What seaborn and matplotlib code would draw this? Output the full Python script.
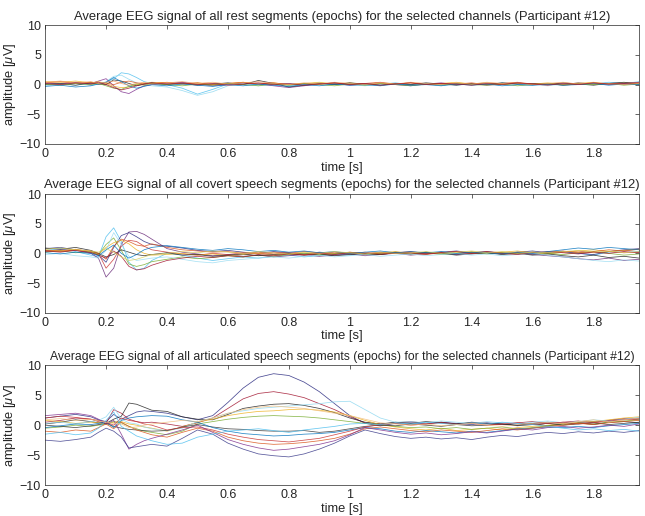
import matplotlib
matplotlib.use("Agg")
import matplotlib.pyplot as plt
import numpy as np
import pandas as pd
import seaborn as sns

# time axis [s] (denser around the 0.2-0.3 s transient)
time_s = [0.0, 0.05, 0.1, 0.15, 0.175, 0.2, 0.225, 0.25, 0.275, 0.3, 0.325, 0.35,
          0.4, 0.45, 0.5, 0.55, 0.6, 0.65, 0.7, 0.75, 0.8, 0.85, 0.9, 0.95, 1.0, 1.05, 1.1, 1.15,
          1.2, 1.25, 1.3, 1.35, 1.4, 1.45, 1.5, 1.55, 1.6, 1.65, 1.7, 1.75, 1.8, 1.85, 1.9, 1.95]

# rest segments, one list per channel
rest_ch1 = [0.2, 0.0, 0.3, -0.1, 0.2, 0.4, 1.0, 2.0, 1.8, 1.2, 0.5, 0.2,
            0.0, -0.6, -1.6, -0.8, 0.1, 0.3, 0.0, 0.2, -0.1, 0.1, 0.3, 0.0, 0.2, -0.1, 0.1, 0.3,
            0.0, 0.2, -0.1, 0.1, 0.2, 0.0, 0.3, 0.1, -0.1, 0.2, 0.0, 0.3, 0.1, 0.4, 0.2, 0.5]
rest_ch2 = [-0.2, 0.1, -0.1, 0.2, 0.0, 0.5, 1.4, 1.6, 0.9, 0.3, 0.0, -0.2,
            -0.4, -1.0, -1.8, -1.2, -0.2, 0.1, -0.2, 0.0, 0.2, -0.1, 0.1, 0.3, 0.0, -0.2, 0.1, 0.2,
            -0.1, 0.0, 0.2, -0.1, 0.1, 0.3, 0.0, 0.2, 0.0, -0.2, 0.1, 0.2, 0.0, 0.3, 0.1, 0.2]
rest_ch3 = [0.3, 0.1, 0.4, 0.2, 0.6, 1.0, -0.2, -1.2, -1.5, -0.8, -0.2, 0.0,
            0.2, 0.4, 0.1, -0.2, 0.0, 0.3, 0.1, -0.2, -0.5, -0.2, 0.1, 0.2, -0.1, 0.1, 0.3, 0.0,
            -0.2, 0.1, 0.3, 0.0, 0.2, -0.1, 0.1, 0.3, 0.0, 0.2, -0.1, 0.1, 0.3, 0.0, 0.2, 0.1]
rest_ch4 = [0.5, 0.4, 0.6, 0.3, 0.5, 0.2, -0.3, -0.5, -0.4, 0.0, 0.2, 0.4,
            0.3, 0.1, 0.3, 0.0, 0.2, 0.4, 0.1, 0.3, 0.0, 0.2, 0.4, 0.1, 0.3, 0.0, 0.2, 0.1,
            0.3, 0.0, 0.2, 0.4, 0.1, 0.3, 0.0, 0.2, 0.1, 0.3, 0.0, 0.2, 0.4, 0.1, 0.3, 0.2]
rest_ch5 = [0.0, 0.2, -0.1, 0.3, 0.1, 0.0, 0.8, 0.6, 0.2, -0.2, 0.1, 0.3,
            0.0, 0.2, -0.1, 0.1, 0.3, 0.0, 0.7, 0.2, -0.4, -0.1, 0.2, 0.0, 0.3, 0.1, -0.1, 0.2,
            0.0, 0.3, 0.1, -0.1, 0.2, 0.0, 0.3, 0.1, 0.2, 0.0, 0.3, 0.1, -0.1, 0.2, 0.4, 0.1]
rest_ch6 = [0.3, 0.5, 0.2, 0.4, 0.1, 0.3, 0.0, 0.4, 0.6, 0.3, 0.1, 0.2,
            0.4, 0.1, 0.3, 0.0, 0.2, 0.4, 0.1, 0.3, 0.0, 0.2, 0.1, 0.3, 0.0, 0.2, 0.4, 0.1,
            0.3, 0.0, 0.2, 0.1, 0.3, 0.0, 0.2, 0.4, 0.1, 0.2, 0.0, 0.3, 0.1, 0.2, 0.0, 0.3]
rest_ch7 = [0.1, -0.1, 0.2, 0.0, 0.2, -0.2, -0.6, -0.8, -0.3, 0.1, -0.1, 0.2,
            0.0, -0.2, 0.1, -0.1, 0.2, 0.0, -0.2, 0.1, -0.1, 0.2, 0.0, -0.2, 0.1, -0.1, 0.2, 0.0,
            -0.2, 0.1, -0.1, 0.2, 0.0, -0.1, 0.1, -0.2, 0.0, 0.2, -0.1, 0.1, 0.0, 0.2, -0.1, 0.1]
rest_ch8 = [-0.3, -0.1, -0.4, -0.2, 0.1, 0.4, 1.2, 0.5, -0.2, -0.6, -0.3, 0.0,
            -0.2, 0.1, -0.1, -0.3, 0.0, -0.2, 0.1, -0.1, -0.3, 0.0, -0.2, 0.1, -0.1, 0.0, -0.2, 0.1,
            -0.1, 0.0, -0.2, 0.1, -0.1, 0.1, -0.2, 0.0, -0.1, 0.1, -0.1, 0.0, 0.2, -0.1, 0.1, 0.0]
rest_ch9 = [0.4, 0.6, 0.3, 0.5, 0.2, 0.4, 0.6, 0.2, -0.1, 0.2, 0.4, 0.1,
            0.3, 0.5, 0.2, 0.4, 0.1, 0.3, 0.5, 0.2, 0.0, 0.3, 0.1, 0.4, 0.2, 0.0, 0.3, 0.1,
            0.4, 0.2, 0.0, 0.3, 0.1, 0.4, 0.2, 0.3, 0.0, 0.2, 0.4, 0.1, 0.3, 0.2, 0.0, 0.2]
rest_ch10 = [0.2, 0.0, 0.3, 0.1, 0.4, 0.0, -0.5, -0.9, -0.6, -0.2, 0.1, 0.3,
             0.1, 0.3, 0.0, 0.2, -0.1, 0.1, 0.3, 0.0, 0.2, -0.1, 0.1, 0.3, 0.0, 0.2, -0.1, 0.1,
             0.3, 0.0, 0.2, 0.1, -0.1, 0.2, 0.0, 0.3, 0.1, -0.1, 0.2, 0.0, 0.3, 0.1, 0.2, 0.4]

# covert speech segments
cov_ch1 = [0.5, 0.8, 0.3, -0.3, -0.6, 2.8, 4.3, 2.0, -1.5, -2.8, -2.5, -1.2,
           0.0, -0.3, -0.8, -1.2, -0.9, -0.6, -0.8, -0.5, -0.3, -0.6, -0.4, -0.2, -0.3, 0.0, -0.2, 0.1,
           -0.1, 0.2, 0.0, -0.2, 0.1, 0.3, 0.0, 0.2, -0.1, 0.1, 0.3, 0.0, -0.3, 0.2, 0.5, 0.3]
cov_ch2 = [0.4, 0.6, 0.5, 0.0, -0.8, -4.0, -2.5, 1.5, 3.6, 3.7, 3.2, 2.4,
           0.8, 0.2, -0.1, -0.4, -0.2, -0.5, -0.3, -0.6, -0.4, -0.2, -0.5, -0.3, -0.1, -0.4, -0.2, 0.0,
           -0.3, -0.1, 0.1, -0.2, 0.0, 0.2, -0.1, 0.1, -0.2, -0.4, -0.6, -0.9, -1.1, -0.8, -1.2, -1.0]
cov_ch3 = [0.8, 1.0, 0.6, 0.2, -0.3, -1.5, 1.0, 3.0, 3.5, 2.8, 2.0, 1.5,
           1.2, 0.9, 0.5, 0.3, 0.5, 0.2, 0.0, 0.3, 0.1, -0.1, 0.2, 0.0, 0.1, -0.2, 0.0, 0.2,
           0.1, -0.1, 0.2, 0.4, 0.1, 0.3, 0.0, 0.2, 0.4, 0.1, 0.3, 0.0, -0.2, 0.3, 0.6, 0.8]
cov_ch4 = [0.3, 0.5, 0.6, 0.2, 0.0, -2.5, -1.0, 1.2, 2.2, 2.0, 1.2, 0.6,
           0.2, -0.1, -0.3, 0.0, -0.2, 0.1, -0.1, 0.2, 0.0, 0.3, 0.1, -0.1, 0.2, 0.0, -0.2, 0.1,
           0.3, 0.0, 0.2, -0.1, 0.1, 0.3, 0.1, -0.1, 0.2, 0.0, 0.2, 0.4, 0.1, 0.3, 0.1, 0.2]
cov_ch5 = [0.6, 0.4, 0.7, 0.3, -0.2, 1.0, 1.8, 2.2, 1.6, 0.6, 0.0, -0.3,
           -0.2, 0.0, -0.3, -0.1, -0.4, -0.2, 0.0, -0.3, -0.1, 0.1, -0.2, 0.0, 0.2, -0.1, 0.1, 0.3,
           0.0, 0.2, -0.1, 0.1, 0.3, 0.0, 0.2, 0.4, 0.1, -0.1, 0.2, 0.4, 0.6, 0.3, 0.5, 0.7]
cov_ch6 = [0.2, 0.4, 0.1, 0.3, -0.2, 1.5, 2.6, 0.5, -1.8, -2.2, -1.9, -1.4,
           -1.0, -0.6, -0.9, -0.7, -0.4, -0.6, -0.3, -0.5, -0.2, 0.0, -0.3, -0.1, 0.1, -0.2, 0.0, 0.2,
           -0.1, 0.1, -0.2, 0.0, 0.2, -0.1, 0.1, -0.1, 0.2, 0.0, -0.2, 0.1, 0.3, 0.0, -0.3, -0.1]
cov_ch7 = [0.9, 0.7, 1.0, 0.5, 0.0, -0.6, -0.2, 0.6, 0.2, -0.2, -0.4, -0.2,
           0.1, -0.3, -0.2, -0.5, -0.3, -0.1, -0.4, -0.2, 0.0, -0.3, -0.1, -0.4, -0.2, 0.0, -0.2, 0.1,
           -0.1, 0.2, 0.0, -0.3, -0.1, 0.1, -0.2, 0.0, -0.3, -0.1, -0.4, -0.6, -0.3, -0.7, -0.5, -0.8]
cov_ch8 = [0.5, 0.3, 0.6, 0.4, 0.0, -1.0, 1.2, 2.4, 2.0, 1.4, 1.2, 1.6,
           1.0, 0.6, 0.4, 0.2, 0.3, 0.0, 0.2, -0.1, 0.1, -0.2, 0.0, 0.2, 0.0, 0.2, -0.1, 0.1,
           0.0, -0.2, 0.1, 0.3, 0.0, 0.2, -0.1, 0.1, 0.0, 0.2, 0.4, 0.1, 0.3, 0.6, 0.4, 0.7]
cov_ch9 = [-0.2, 0.0, -0.4, -0.6, -0.8, 0.5, 3.5, 1.5, -0.5, -1.2, -1.0, -0.8,
           -0.6, -1.0, -1.4, -1.6, -1.2, -1.0, -0.8, -0.6, -0.8, -0.5, -0.3, -0.6, -0.4, -0.2, -0.5, -0.3,
           -0.1, -0.4, -0.2, 0.0, -0.3, -0.1, -0.4, -0.2, 0.0, -0.3, -0.6, -0.9, -1.2, -1.4, -1.1, -1.3]
cov_ch10 = [0.4, 0.2, 0.5, 0.1, -0.3, -0.8, 0.4, -0.5, -2.2, -2.8, -2.6, -2.0,
            -1.2, -0.8, -0.5, -0.7, -0.4, -0.6, -0.2, -0.4, -0.1, -0.3, 0.0, -0.2, 0.1, -0.1, 0.2, 0.0,
            0.2, -0.1, 0.1, 0.3, 0.0, 0.2, 0.0, -0.2, 0.1, 0.3, 0.1, -0.1, 0.2, 0.0, 0.3, 0.1]
cov_ch11 = [0.1, -0.1, 0.2, 0.0, -0.4, 0.6, 1.4, 0.0, -0.8, -0.2, 0.6, 1.0,
            1.3, 1.0, 0.7, 0.5, 0.8, 0.6, 0.3, 0.5, 0.2, 0.4, 0.1, 0.3, 0.0, 0.2, 0.4, 0.1,
            0.3, 0.1, 0.3, 0.0, 0.2, 0.1, -0.1, 0.2, 0.0, 0.3, 0.6, 0.9, 0.7, 1.0, 0.8, 0.6]
cov_ch12 = [0.7, 0.9, 0.6, 0.4, 0.2, 0.8, 0.2, -0.6, -1.2, -1.0, -0.6, -0.2,
            0.0, 0.3, 0.1, 0.4, 0.2, 0.0, 0.3, 0.1, -0.1, 0.2, 0.0, 0.3, 0.1, -0.1, 0.2, 0.0,
            0.1, 0.3, 0.0, 0.2, 0.4, 0.1, 0.3, 0.0, 0.2, 0.1, 0.3, 0.5, 0.2, 0.4, 0.1, 0.3]

# articulated speech segments
art_ch1 = [1.2, 1.5, 1.8, 1.4, 0.9, 0.6, 1.8, 1.0, 1.6, 2.2, 2.4, 2.3,
           2.0, 1.4, 0.9, 1.6, 3.8, 6.2, 8.0, 8.6, 8.3, 7.2, 5.6, 3.6, 1.6, 0.3, -0.1, 0.3,
           0.4, 0.2, 0.5, 0.3, 0.1, 0.4, 0.2, 0.0, 0.3, 0.5, 0.2, 0.4, 0.6, 0.8, 1.0, 1.2]
art_ch2 = [0.5, 0.8, 1.2, 1.0, 0.6, 0.3, 2.6, 2.0, 1.0, 0.6, 0.4, 0.5,
           0.2, -0.2, 0.4, 1.2, 2.8, 4.4, 5.3, 5.6, 5.2, 4.6, 3.6, 2.6, 1.4, 0.4, 0.2, 0.4,
           0.6, 0.3, 0.5, 0.2, 0.4, 0.3, 0.1, 0.4, 0.6, 0.3, 0.5, 0.7, 0.4, 0.8, 1.1, 0.9]
art_ch3 = [0.2, 0.5, 0.9, 0.6, 0.4, 0.3, 1.0, 1.5, 3.7, 3.5, 3.0, 2.5,
           2.3, 1.4, 1.0, 0.9, 1.8, 2.8, 3.2, 3.5, 3.6, 3.3, 2.8, 2.1, 1.2, 0.5, 0.2, 0.5,
           0.3, 0.6, 0.4, 0.2, 0.5, 0.3, 0.2, 0.0, 0.3, -0.1, 0.2, 0.4, 0.1, 0.5, 0.6, 0.4]
art_ch4 = [0.8, 0.6, 0.3, 0.5, 0.4, 0.2, 0.5, 0.6, 0.2, 0.0, -0.3, -0.5,
           -1.0, -0.3, 0.5, 1.0, 1.6, 2.0, 2.3, 2.4, 2.6, 2.7, 2.5, 2.2, 1.6, 0.8, 0.1, -0.3,
           -0.6, -0.8, -0.5, -0.9, -0.7, -0.5, -0.8, -0.4, -0.2, 0.0, 0.3, 0.5, 0.6, 0.9, 1.2, 1.4]
art_ch5 = [0.3, 0.5, 0.2, 0.6, 0.8, 1.4, 3.0, 1.0, 0.4, 0.2, -0.3, -0.6,
           -0.9, -0.5, 0.6, 1.2, 2.0, 2.4, 2.8, 3.0, 3.2, 3.4, 3.6, 3.9, 4.0, 2.6, 1.2, 0.5,
           0.6, 0.4, 0.7, 0.5, 0.3, 0.6, 0.4, 0.2, 0.5, 0.7, 0.4, 0.6, 0.9, 0.7, 1.0, 1.3]
art_ch6 = [-0.5, -0.3, 0.0, -0.2, 0.0, 0.2, 0.6, 0.4, -0.2, -0.6, -1.0, -1.2,
           -1.6, -1.0, 0.2, 0.6, 1.0, 1.3, 1.5, 1.6, 1.5, 1.4, 1.2, 0.9, 0.6, 0.3, 0.1, -0.2,
           -0.4, -0.3, -0.6, -0.4, -0.7, -0.5, -0.3, -0.6, -0.4, -0.1, 0.1, 0.3, 0.2, 0.5, 0.7, 0.9]
art_ch7 = [0.0, -0.2, -0.4, -0.1, 0.1, 0.3, -0.2, -0.5, -0.7, -0.8, -0.9, -1.0,
           -0.9, -0.3, 0.1, -0.3, -0.6, -0.7, -0.9, -1.0, -1.0, -0.9, -1.2, -1.0, -0.6, -0.2, 0.0, -0.1,
           0.2, 0.0, -0.2, 0.1, -0.1, 0.0, 0.2, -0.1, 0.1, 0.3, 0.0, 0.2, 0.4, 0.1, 0.3, 0.5]
art_ch8 = [-0.4, -0.1, 0.2, 0.1, 0.3, 0.6, -0.4, 0.8, 1.2, 1.4, 1.5, 1.6,
           1.5, 0.9, 0.5, -0.4, -1.0, -1.4, -1.6, -1.8, -1.7, -1.5, -1.4, -1.2, -0.8, -0.4, -0.6, -1.0,
           -1.2, -0.9, -1.1, -1.3, -1.0, -1.2, -0.9, -0.7, -0.5, -0.3, -0.4, -0.2, -0.4, -0.1, 0.1, 0.3]
art_ch9 = [1.2, 1.5, 1.3, 1.0, 0.8, 0.5, 0.0, 1.2, 0.8, 0.6, 0.2, 0.0,
           -0.8, -0.4, -0.3, -0.8, -1.5, -2.0, -2.4, -2.6, -2.8, -2.5, -2.2, -1.6, -1.0, -0.3, 0.1, 0.3,
           0.0, 0.2, 0.4, 0.1, 0.3, 0.0, 0.2, 0.4, 0.1, 0.3, 0.5, 0.2, 0.4, 0.7, 0.9, 1.1]
art_ch10 = [-1.0, -1.2, -0.8, -1.0, -0.4, 0.2, -0.6, 0.5, -0.2, -0.8, -1.2, -1.6,
            -2.0, -1.2, -0.5, -1.0, -2.0, -2.6, -3.0, -3.2, -3.1, -2.9, -2.6, -2.2, -1.5, -0.6, -0.3, -0.6,
            -0.9, -1.1, -0.8, -1.0, -1.2, -0.9, -0.6, -0.8, -0.5, -0.2, 0.0, 0.3, 0.1, 0.4, 0.6, 0.8]
art_ch11 = [1.6, 1.8, 2.0, 1.6, 1.0, 0.2, 0.8, -1.5, -4.0, -3.2, -2.6, -2.2,
            -1.5, -0.8, 0.0, -1.2, -2.4, -3.2, -3.8, -4.2, -4.0, -3.6, -3.2, -2.6, -1.6, -0.4, -0.8, -1.2,
            -1.5, -1.3, -1.6, -1.4, -1.1, -1.3, -1.0, -0.6, -0.8, -0.4, -0.2, -0.5, -0.3, 0.0, -0.2, 0.2]
art_ch12 = [-2.5, -2.7, -2.4, -2.0, -1.2, -0.5, -1.0, -2.0, -3.8, -3.6, -3.4, -3.2,
            -3.5, -2.2, -0.8, -1.5, -3.0, -4.0, -4.8, -5.1, -5.3, -4.8, -4.0, -3.0, -1.8, -0.8, -1.4, -1.9,
            -2.2, -2.0, -2.3, -2.1, -2.4, -2.0, -1.7, -1.9, -1.5, -1.2, -1.4, -1.1, -1.3, -1.0, -1.2, -0.9]
art_ch13 = [-1.5, -1.2, -1.6, -1.3, -0.5, 0.8, 2.2, -0.2, -1.0, -1.8, -2.2, -2.6,
            -3.2, -3.0, -2.0, -1.5, -1.0, -0.8, -0.6, -0.9, -1.2, -0.8, -0.5, -0.2, 0.2, 0.3, 0.1, 0.4,
            0.2, 0.5, 0.3, 0.1, 0.4, 0.2, 0.5, 0.3, 0.1, -0.2, -0.5, -0.8, -0.6, -0.9, -0.7, -1.0]
art_ch14 = [0.9, 1.1, 0.8, 1.0, 0.7, 0.5, 0.3, 0.2, -0.4, -0.3, 0.0, 0.2,
            0.5, 0.8, 0.6, 1.2, 2.0, 2.6, 3.0, 3.2, 3.0, 2.8, 2.4, 2.0, 1.6, 1.0, 0.4, 0.2,
            0.0, 0.2, -0.1, 0.1, 0.3, 0.0, -0.2, 0.1, 0.3, 0.5, 0.2, 0.6, 0.9, 0.5, 0.9, 1.2]

rest_channels = [rest_ch1, rest_ch2, rest_ch3, rest_ch4, rest_ch5,
                 rest_ch6, rest_ch7, rest_ch8, rest_ch9, rest_ch10]
cov_channels = [cov_ch1, cov_ch2, cov_ch3, cov_ch4, cov_ch5, cov_ch6,
                cov_ch7, cov_ch8, cov_ch9, cov_ch10, cov_ch11, cov_ch12]
art_channels = [art_ch1, art_ch2, art_ch3, art_ch4, art_ch5, art_ch6, art_ch7,
                art_ch8, art_ch9, art_ch10, art_ch11, art_ch12, art_ch13, art_ch14]

rest_colors = ["#4DBEEE", "#8FD8F0", "#7E2F8E", "#EDB120", "#222222",
               "#D95319", "#77AC30", "#0072BD", "#F0A060", "#A2142F"]
cov_colors = ["#4DBEEE", "#6A2C7A", "#2A2A80", "#C83232", "#EDB120", "#77AC30",
              "#222222", "#D95319", "#9ADCF2", "#A2142F", "#0072BD", "#D8D060"]
art_colors = ["#2A2A80", "#A2142F", "#222222", "#EDB120", "#8FD8F0", "#77AC30", "#333333",
              "#0072BD", "#C83232", "#D95319", "#7E2F8E", "#3A3A8A", "#4DBEEE", "#F2C080"]

titles = [
    "Average EEG signal of all rest segments (epochs) for the selected channels (Participant #12)",
    "Average EEG signal of all covert speech segments (epochs) for the selected channels (Participant #12)",
    "Average EEG signal of all articulated speech segments (epochs) for the selected channels (Participant #12)",
]
title_sizes = [9.4, 9.4, 8.8]


def to_long(channels):
    frames = []
    for i, vals in enumerate(channels):
        frames.append(pd.DataFrame({"time": time_s, "amp": vals, "ch": f"ch{i + 1}"}))
    return pd.concat(frames, ignore_index=True)


sns.set_style("white")
plt.rcParams["font.family"] = ["Liberation Sans", "DejaVu Sans"]
plt.rcParams["mathtext.fontset"] = "custom"
plt.rcParams["mathtext.rm"] = "Liberation Sans"
plt.rcParams["mathtext.it"] = "Liberation Sans:italic"

fig = plt.figure(figsize=(6.45, 5.16), dpi=100)
positions = [[0.070, 0.721, 0.921, 0.230],
             [0.070, 0.394, 0.921, 0.230],
             [0.070, 0.060, 0.921, 0.232]]
panels = [(rest_channels, rest_colors), (cov_channels, cov_colors), (art_channels, art_colors)]

for pos, (channels, colors), title, tsize in zip(positions, panels, titles, title_sizes):
    ax = fig.add_axes(pos)
    df = to_long(channels)
    palette = {f"ch{i + 1}": c for i, c in enumerate(colors)}
    sns.lineplot(data=df, x="time", y="amp", hue="ch", palette=palette, estimator=None,
                 linewidth=0.55, alpha=0.85, legend=False, ax=ax)
    ax.set_xlim(0, 1.95)
    ax.set_ylim(-10, 10)
    ax.set_xticks([0, 0.2, 0.4, 0.6, 0.8, 1, 1.2, 1.4, 1.6, 1.8])
    ax.set_xticklabels(["0", "0.2", "0.4", "0.6", "0.8", "1", "1.2", "1.4", "1.6", "1.8"])
    ax.set_yticks([-10, -5, 0, 5, 10])
    ax.tick_params(direction="in", length=3, width=0.5, colors="#262626",
                   labelsize=9, top=True, right=True, pad=3)
    for sp in ax.spines.values():
        sp.set_color("#262626")
        sp.set_linewidth(0.5)
    ax.set_xlabel("time [s]", fontsize=9.3, labelpad=1, color="#262626")
    ax.set_ylabel(r"amplitude [$\mu$V]", fontsize=9.3, labelpad=1, color="#262626")
    ax.set_title(title, fontsize=tsize, pad=4)

fig.savefig("out.png", dpi=100)
